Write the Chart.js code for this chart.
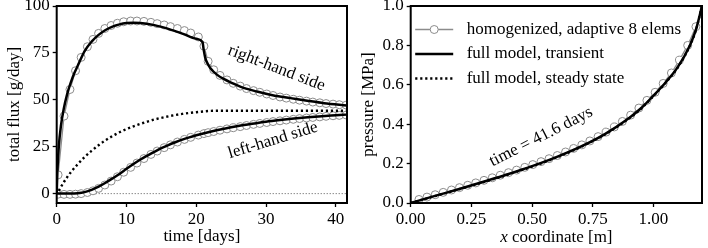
<!DOCTYPE html>
<html>
<head>
<meta charset="utf-8">
<script src="https://cdn.jsdelivr.net/npm/chart.js@4.4.1/dist/chart.umd.min.js"></script>
<style>
  html, body { margin: 0; padding: 0; background: #fff; }
  #wrap { position: relative; width: 708px; height: 248px; }
  canvas { position: absolute; top: 0; }
  #flux { left: 0; }
  #pres { left: 354px; }
</style>
</head>
<body>
<div id="wrap">
  <canvas id="flux" width="354" height="248"></canvas>
  <canvas id="pres" width="354" height="248"></canvas>
</div>
<script>
// ---- left panel: total flux vs time ----
const timeRhs = [0, 0.1, 0.3, 0.6, 1.0, 1.5, 2.0, 2.5, 3.0, 4.0, 5.0, 6.0, 7.0, 8.0, 9.0, 10.0, 11.0, 12.0, 14.0, 16.0, 18.0, 20.0, 20.9, 21.05, 21.3, 21.6, 22.0, 23.0, 24.0, 25.0, 26.3, 28.7, 31.1, 33.5, 35.9, 38.3, 41.6];
const rhsTransient = [0, 12, 25, 36, 45, 53, 59, 64, 68, 76, 81, 84.6, 87.2, 89, 90.2, 90.9, 91.1, 91, 89.8, 87.8, 85.3, 82.5, 80.8, 77, 72.2, 69.5, 67, 63.3, 61, 59.2, 57, 54.4, 52.3, 50.9, 49.5, 48.2, 47];

const timeLhs = [0, 1, 2, 3, 4, 5, 6, 7, 8, 9, 10, 11, 12, 13, 14, 15, 16, 17, 18, 19, 20, 22, 24, 26, 28, 30, 32, 34, 36, 38, 40, 41.6];
const lhsTransient = [0, 0, 0, 0.2, 0.8, 2, 3.7, 5.8, 8.1, 10.5, 13.2, 15.8, 18.2, 20.3, 22.3, 24.2, 25.9, 27.4, 28.8, 30, 31.1, 33, 34.6, 36, 37.2, 38.3, 39.2, 40, 40.7, 41.3, 41.8, 42.2];

const timeSteady = [0.3, 0.6, 1, 1.5, 2, 3, 4, 5, 6, 7, 8, 9, 10, 11, 12, 13, 14, 15, 16, 17, 18, 19, 20, 21, 22, 24, 41.6];
const fluxSteady = [1.5, 3.5, 6, 8.8, 11.3, 15.6, 19.5, 22.8, 25.8, 28.4, 30.7, 32.7, 34.4, 35.9, 37.2, 38.4, 39.5, 40.4, 41.2, 41.9, 42.5, 43, 43.4, 43.8, 44.1, 44.2, 44.2];

const timeHom = [0.2, 1.05, 1.9, 2.7, 3.5, 4.4, 5.2, 6.0, 6.9, 7.8, 8.7, 9.6, 10.6, 11.5, 12.5, 13.5, 14.4, 15.4, 16.3, 17.3, 18.3, 19.2, 20.3, 21.1, 21.7, 22.5, 23.4, 24.4, 25.3, 26.3, 27.2, 28.2, 29.1, 30.1, 31.0, 32.0, 32.9, 33.9, 34.8, 35.8, 36.7, 37.7, 38.6, 39.6, 40.5, 41.5];
const rhsHom = [10, 41.3, 55.5, 65.5, 72.6, 78.3, 82.2, 85.4, 88, 89.6, 90.8, 91.6, 92, 92, 91.8, 91.3, 90.6, 89.9, 89, 88, 86.9, 85.6, 83.5, 78.6, 70.5, 66, 63, 60.6, 58.8, 57.3, 56, 54.9, 54, 53.1, 52.3, 51.5, 50.9, 50.3, 49.8, 49.3, 48.8, 48.4, 48, 47.7, 47.4, 47.2];
const lhsHom = [-0.3, -0.4, -0.4, -0.3, 0, 0.6, 1.5, 2.8, 4.6, 6.7, 9, 11.4, 14, 16.3, 18.7, 20.9, 22.7, 24.5, 26, 27.5, 28.9, 30, 31.2, 32, 32.5, 33.1, 33.8, 34.5, 35.1, 35.7, 36.3, 36.9, 37.4, 37.9, 38.4, 38.8, 39.2, 39.6, 40, 40.3, 40.6, 40.9, 41.2, 41.5, 41.7, 41.9];

const zeroTime = [0, 41.6];
const zeroFlux = [0, 0];

const timeTicks = [0, 10, 20, 30, 40];
const fluxTicks = [0, 25, 50, 75, 100];

// ---- right panel: pressure profile at the last time ----
const xFull = [0, 0.1, 0.2, 0.3, 0.4, 0.5, 0.6, 0.7, 0.8, 0.9, 0.95, 1.0, 1.05, 1.1, 1.15, 1.175, 1.2];
const pTransient = [0, 0.036, 0.071, 0.108, 0.146, 0.187, 0.233, 0.286, 0.35, 0.432, 0.482, 0.545, 0.612, 0.69, 0.8, 0.88, 1.0];
const pSteady = [0, 0.035, 0.07, 0.106, 0.144, 0.185, 0.231, 0.284, 0.348, 0.43, 0.48, 0.543, 0.61, 0.688, 0.798, 0.878, 1.0];

const xHom = [0.034, 0.067, 0.101, 0.134, 0.168, 0.201, 0.235, 0.268, 0.302, 0.336, 0.369, 0.403, 0.436, 0.470, 0.503, 0.537, 0.570, 0.604, 0.638, 0.671, 0.705, 0.738, 0.772, 0.805, 0.839, 0.872, 0.906, 0.940, 0.973, 1.007, 1.040, 1.074, 1.107, 1.141, 1.175];
const pHom = [0.018, 0.030, 0.042, 0.054, 0.066, 0.078, 0.090, 0.102, 0.115, 0.128, 0.141, 0.154, 0.167, 0.181, 0.195, 0.210, 0.225, 0.241, 0.259, 0.277, 0.295, 0.315, 0.337, 0.360, 0.386, 0.414, 0.446, 0.482, 0.521, 0.562, 0.607, 0.660, 0.725, 0.800, 0.895];

const xTicks = [0, 0.25, 0.5, 0.75, 1.0];
const pTicks = [0, 0.2, 0.4, 0.6, 0.8, 1.0];

const legendLabels = ['homogenized, adaptive 8 elems', 'full model, transient', 'full model, steady state'];

const GRAY = '#8c8c8c';
const FONT = "'Liberation Serif', 'DejaVu Serif', serif";

Chart.defaults.font.family = FONT;
Chart.defaults.font.size = 17;
Chart.defaults.color = '#000';

function pts(xs, ys) {
  return xs.map((x, i) => ({ x: x, y: ys[i] }));
}

function axis(min, max, ticks, fmt, title, horizontal) {
  return {
    type: 'linear',
    min: min,
    max: max,
    afterBuildTicks: s => { s.ticks = ticks.map(v => ({ value: v })); },
    afterFit: s => {
      if (horizontal) {
        s.height = 45;
        s.paddingLeft = 0;
        s.paddingRight = 0;
      } else {
        s.width = 56.7;
        s.paddingTop = 0;
        s.paddingBottom = 0;
      }
    },
    ticks: { callback: fmt, padding: horizontal ? 2 : 3, maxRotation: 0, autoSkip: false, color: '#000' },
    grid: { drawOnChartArea: false, tickLength: 4, tickWidth: 1.3, tickColor: '#000' },
    border: { display: false },
    title: title ? { display: true, text: title, color: '#000', padding: { top: 4, bottom: 1 } } : { display: false }
  };
}

function solid(data) {
  return { data: data, showLine: true, borderColor: '#000', borderWidth: 2.5, pointRadius: 0, cubicInterpolationMode: 'monotone' };
}

function dotted(data) {
  return { data: data, showLine: true, borderColor: '#000', borderWidth: 2.4, borderDash: [2.2, 2.8], pointRadius: 0, cubicInterpolationMode: 'monotone' };
}

function homog(data) {
  return {
    data: data, showLine: true, borderColor: GRAY, borderWidth: 1.3,
    pointRadius: 4, pointBorderWidth: 1, pointBackgroundColor: '#fff', pointBorderColor: GRAY
  };
}

// box around the plot area plus rotated notes, legend, custom title
const decor = {
  id: 'decor',
  afterDatasetsDraw(chart, args, opts) {
    const { ctx, chartArea: a, scales } = chart;
    ctx.save();
    ctx.strokeStyle = '#000';
    ctx.lineWidth = 2;
    ctx.strokeRect(a.left, a.top, a.right - a.left, a.bottom - a.top);

    ctx.fillStyle = '#000';
    ctx.font = '17px ' + FONT;
    ctx.textAlign = 'center';
    ctx.textBaseline = 'middle';
    (opts.notes || []).forEach(n => {
      ctx.save();
      ctx.translate(scales.x.getPixelForValue(n.x), scales.y.getPixelForValue(n.y));
      ctx.rotate(n.rot * Math.PI / 180);
      ctx.fillText(n.text, 0, 0);
      ctx.restore();
    });

    if (opts.legend) {
      const rows = [29.5, 54, 78.5];
      rows.forEach((y, i) => {
        const x0 = a.left + 4.5, x1 = a.left + 42.5;
        ctx.beginPath();
        ctx.moveTo(x0, y);
        ctx.lineTo(x1, y);
        if (i === 0) {
          ctx.strokeStyle = GRAY; ctx.lineWidth = 1.3; ctx.setLineDash([]);
        } else if (i === 1) {
          ctx.strokeStyle = '#000'; ctx.lineWidth = 2.5; ctx.setLineDash([]);
        } else {
          ctx.strokeStyle = '#000'; ctx.lineWidth = 2.4; ctx.setLineDash([2.2, 2.8]);
        }
        ctx.stroke();
        ctx.setLineDash([]);
        if (i === 0) {
          ctx.beginPath();
          ctx.arc((x0 + x1) / 2, y, 4, 0, Math.PI * 2);
          ctx.fillStyle = '#fff';
          ctx.fill();
          ctx.lineWidth = 1;
          ctx.strokeStyle = GRAY;
          ctx.stroke();
        }
        ctx.fillStyle = '#000';
        ctx.textAlign = 'left';
        ctx.fillText(legendLabels[i], a.left + 56, y);
      });
    }

    if (opts.xTitle) {
      const t = opts.xTitle;
      ctx.textAlign = 'left';
      ctx.font = 'italic 17px ' + FONT;
      const w1 = ctx.measureText(t[0]).width;
      ctx.font = '17px ' + FONT;
      const w2 = ctx.measureText(t[1]).width;
      const x = (a.left + a.right) / 2 - (w1 + w2) / 2;
      ctx.font = 'italic 17px ' + FONT;
      ctx.fillText(t[0], x, 238);
      ctx.font = '17px ' + FONT;
      ctx.fillText(t[1], x + w1, 238);
    }
    ctx.restore();
  }
};

const base = {
  responsive: false,
  animation: false,
  devicePixelRatio: 1,
  events: [],
  layout: { padding: { left: 0, right: 7, top: 6, bottom: 0 } }
};

new Chart(document.getElementById('flux'), {
  type: 'scatter',
  data: {
    datasets: [
      solid(pts(timeRhs, rhsTransient)),
      solid(pts(timeLhs, lhsTransient)),
      dotted(pts(timeSteady, fluxSteady)),
      homog(pts(timeHom, rhsHom)),
      homog(pts(timeHom, lhsHom)),
      { data: pts(zeroTime, zeroFlux), showLine: true, borderColor: '#555', borderWidth: 1, borderDash: [1, 2], pointRadius: 0 }
    ]
  },
  options: Object.assign({}, base, {
    scales: {
      x: axis(0, 41.6, timeTicks, v => String(v), 'time [days]', true),
      y: axis(-5, 100, fluxTicks, v => String(v), 'total flux [g/day]', false)
    },
    plugins: {
      legend: { display: false },
      tooltip: { enabled: false },
      decor: {
        notes: [
          { text: 'right-hand side', x: 31.5, y: 66.9, rot: 21 },
          { text: 'left-hand side', x: 31.0, y: 28.4, rot: -17 }
        ]
      }
    }
  }),
  plugins: [decor]
});

new Chart(document.getElementById('pres'), {
  type: 'scatter',
  data: {
    datasets: [
      solid(pts(xFull, pTransient)),
      dotted(pts(xFull, pSteady)),
      homog(pts(xHom, pHom))
    ]
  },
  options: Object.assign({}, base, {
    layout: { padding: { left: 0, right: 6, top: 6, bottom: 0 } },
    scales: {
      x: axis(0, 1.2, xTicks, v => v.toFixed(2), null, true),
      y: axis(0, 1, pTicks, v => v.toFixed(1), 'pressure [MPa]', false)
    },
    plugins: {
      legend: { display: false },
      tooltip: { enabled: false },
      decor: {
        notes: [{ text: 'time = 41.6 days', x: 0.537, y: 0.336, rot: -27 }],
        legend: true,
        xTitle: ['x', ' coordinate [m]']
      }
    }
  }),
  plugins: [decor]
});
</script>
</body>
</html>
